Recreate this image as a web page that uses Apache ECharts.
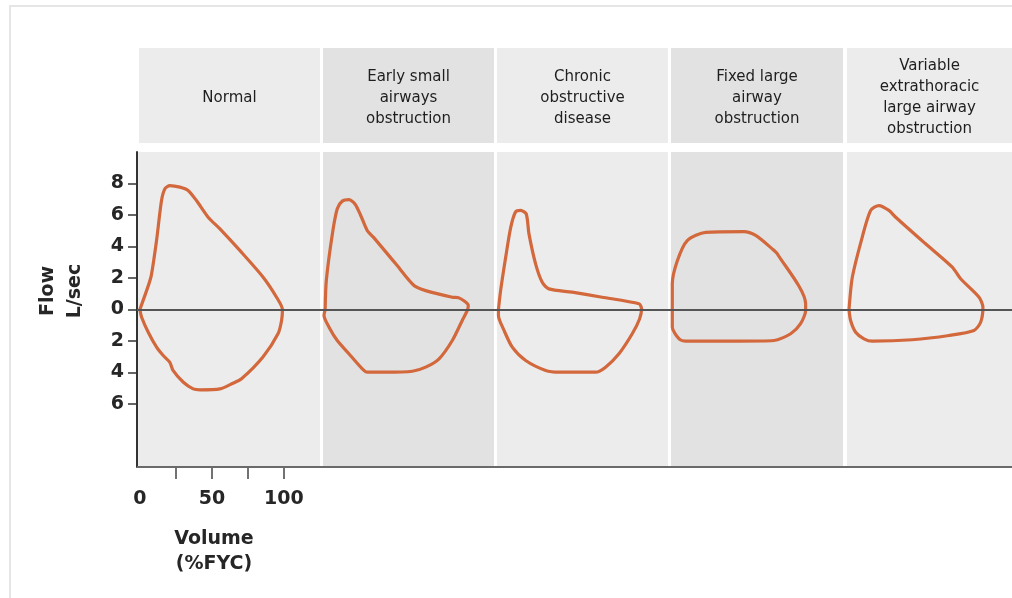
<!DOCTYPE html>
<html>
<head>
<meta charset="utf-8">
<script src="https://cdn.jsdelivr.net/npm/echarts@6/dist/echarts.min.js"></script>
<style>
  html, body { margin: 0; padding: 0; background: #ffffff; }
  #chart { width: 1012px; height: 598px; }
</style>
</head>
<body>
<div id="chart"></div>
<script>
// ---------------- data ----------------
const panelTitles = [
  'Normal',
  'Early small\nairways\nobstruction',
  'Chronic\nobstructive\ndisease',
  'Fixed large\nairway\nobstruction',
  'Variable\nextrathoracic\nlarge airway\nobstruction'
];

// flow-volume loops: [volume %FVC, flow L/sec]; expiration positive, inspiration negative
const normalLoop = [
  [0, 0], [5.8, 1.5], [8, 2.2], [11.6, 4.4], [15, 6.9], [17.4, 7.66], [20.8, 7.87],
  [27.8, 7.77], [33.5, 7.56], [39.4, 6.9], [47.4, 5.86], [55.6, 5.12], [69.4, 3.75],
  [85.6, 2.05], [94.9, 0.78], [99, 0], [98.4, -0.7], [96, -1.53], [85.6, -3.0],
  [70.6, -4.4], [64.6, -4.68], [55.6, -5.04], [41.7, -5.1], [37, -5.04], [30, -4.6],
  [23, -3.87], [20.8, -3.35], [16.2, -2.92], [11.6, -2.39], [5.8, -1.44], [1.2, -0.49], [0, 0]
];
const earlySmallLoop = [
  [-0.5, 0], [0.3, 1.84], [4.5, 4.8], [7.9, 6.4], [11.4, 6.88], [16, 6.97], [20.2, 6.7],
  [24.2, 5.97], [28.8, 5.0], [33.4, 4.55], [48.5, 2.9], [61.2, 1.52], [69.3, 1.2],
  [87.8, 0.78], [92.4, 0.74], [98.9, 0.25], [98.2, -0.06], [94.7, -0.7], [87.8, -1.97],
  [78.6, -3.13], [69.3, -3.66], [60, -3.92], [41.5, -3.98], [28.8, -3.98], [24.2, -3.66],
  [16, -2.81], [7.9, -1.97], [2.2, -1.12], [-1.3, -0.38], [-0.5, 0]
];
const chronicLoop = [
  [-1, 0], [0.5, 1.2], [4, 3.3], [7.5, 5.2], [10.9, 6.2], [14.4, 6.3], [18.3, 6.07],
  [20.2, 4.8], [24.8, 2.9], [29.4, 1.73], [34, 1.31], [50.2, 1.1], [71, 0.78],
  [96.6, 0.36], [98.4, 0.04], [97, -0.6], [91.9, -1.54], [82.7, -2.81], [73.4, -3.66],
  [66.5, -3.98], [41, -3.98], [31.8, -3.87], [17.9, -3.24], [8.6, -2.39], [2.9, -1.33],
  [-1, -0.38], [-1, 0]
];
const fixedLargeLoop = [
  [-1.1, 0], [-1.1, 1.63], [2.4, 3.1], [9.3, 4.38], [22.1, 4.9], [48.7, 4.95], [56.8, 4.7],
  [68.3, 3.85], [71.8, 3.54], [91.5, 0.36], [91.5, -0.06], [88, -0.9], [81.1, -1.54],
  [69.5, -1.97], [45.2, -2.01], [8.2, -2.01], [3.6, -1.86], [-1.1, -1.12], [-1.1, 0]
];
const variableExtraLoop = [
  [-0.6, 0], [1.7, 2.05], [8.6, 4.6], [14.4, 6.29], [20.2, 6.6], [27.1, 6.29], [31.8, 5.86],
  [52.6, 4.17], [71.1, 2.69], [76.9, 1.95], [89.7, 0.78], [92.4, 0.14], [90.8, -0.81],
  [86.2, -1.33], [68.8, -1.65], [43.3, -1.92], [15.5, -2.01], [9.8, -1.86], [4, -1.44],
  [0.5, -0.7], [-0.6, 0]
];
const loops = [normalLoop, earlySmallLoop, chronicLoop, fixedLargeLoop, variableExtraLoop];

const yTickValues = [-6, -4, -2, 0, 2, 4, 6, 8];
const xTickValues = [25, 50, 75, 100];
const xLabelValues = [0, 50, 100];

// ---------------- layout ----------------
const panelLeft = [137, 323, 497, 671, 847];
const panelWidth = [183, 171, 171, 172, 165];
const panelColor = ['#ececec', '#e2e2e2', '#ececec', '#e2e2e2', '#ececec'];
const plotTop = 152, plotHeight = 315;
const pxPerPct = 1.44;
const xMin = -2;
const FONT = 'DejaVu Sans';

const grids = [], xAxes = [], yAxes = [], series = [], graphics = [];

// outer frame of the figure
graphics.push({
  type: 'rect', shape: { x: 10, y: 6, width: 1010, height: 600 },
  style: { fill: 'none', stroke: '#e6e6e6', lineWidth: 2 }, z: 0
});

for (let i = 0; i < 5; i++) {
  grids.push({
    left: panelLeft[i], width: panelWidth[i], top: plotTop, height: plotHeight,
    show: true, backgroundColor: panelColor[i], borderWidth: 0
  });
  const first = i === 0;
  xAxes.push({
    type: 'value', gridIndex: i, min: xMin, max: xMin + panelWidth[i] / pxPerPct,
    show: first, position: 'bottom',
    axisLine: { show: false, onZero: false },
    splitLine: { show: false },
    axisTick: { show: first, customValues: xTickValues, length: 12, inside: false,
      lineStyle: { color: '#444', width: 1.5 } },
    axisLabel: { show: first, customValues: xLabelValues, margin: 23,
      fontFamily: FONT, fontSize: 19, fontWeight: 'bold', color: '#262626' }
  });
  yAxes.push({
    type: 'value', gridIndex: i, min: -10, max: 10,
    show: first,
    axisLine: { show: first, onZero: false, lineStyle: { color: '#333', width: 2 } },
    splitLine: { show: false },
    axisTick: { show: first, customValues: yTickValues, length: 9,
      lineStyle: { color: '#333', width: 1.5 } },
    axisLabel: { show: first, customValues: yTickValues, margin: 13,
      fontFamily: FONT, fontSize: 19, fontWeight: 'bold', color: '#262626',
      formatter: v => String(Math.abs(v)) }
  });
  series.push({
    type: 'line', xAxisIndex: i, yAxisIndex: i, data: loops[i],
    showSymbol: false, smooth: 0.25, z: 4, silent: true,
    lineStyle: { color: '#d2683c', width: 3.2 }
  });
  // header box
  const hx = i === 0 ? panelLeft[i] + 2 : panelLeft[i];
  const hw = i === 0 ? panelWidth[i] - 2 : panelWidth[i];
  graphics.push({
    type: 'rect', shape: { x: hx, y: 48, width: hw, height: 95 },
    style: { fill: panelColor[i] }, z: 1
  });
  graphics.push({
    type: 'text', x: hx + hw / 2, y: 98, z: 2,
    style: { text: panelTitles[i], align: 'center', verticalAlign: 'middle',
      fontFamily: FONT, fontSize: 15, lineHeight: 21, fill: '#1e1e1e' }
  });
}

// frame grid spanning all panels: zero-flow line and bottom baseline
grids.push({ left: 137, right: 0, top: plotTop, height: plotHeight, show: false });
xAxes.push({ type: 'value', gridIndex: 5, min: 0, max: 1, show: false });
yAxes.push({ type: 'value', gridIndex: 5, min: -10, max: 10, show: false });
series.push({
  type: 'line', xAxisIndex: 5, yAxisIndex: 5, data: [], silent: true, z: 3,
  markLine: {
    silent: true, symbol: 'none', label: { show: false },
    data: [
      { yAxis: 0, lineStyle: { color: '#555', width: 2, type: 'solid' } },
      { yAxis: -10, lineStyle: { color: '#6a6a6a', width: 2, type: 'solid' } }
    ]
  }
});

// axis titles
graphics.push({
  type: 'text', x: 62, y: 291, rotation: Math.PI / 2, z: 5,
  style: { text: 'Flow\nL/sec', align: 'center', verticalAlign: 'middle',
    fontFamily: FONT, fontSize: 19, fontWeight: 'bold', lineHeight: 27, fill: '#262626' }
});
graphics.push({
  type: 'text', x: 214, y: 552, z: 5,
  style: { text: 'Volume\n(%FYC)', align: 'center', verticalAlign: 'middle',
    fontFamily: FONT, fontSize: 19, fontWeight: 'bold', lineHeight: 25, fill: '#262626' }
});

const chart = echarts.init(document.getElementById('chart'), null, { renderer: 'canvas' });
chart.setOption({
  animation: false,
  backgroundColor: '#ffffff',
  grid: grids,
  xAxis: xAxes,
  yAxis: yAxes,
  series: series,
  graphic: { elements: graphics }
});
</script>
</body>
</html>
